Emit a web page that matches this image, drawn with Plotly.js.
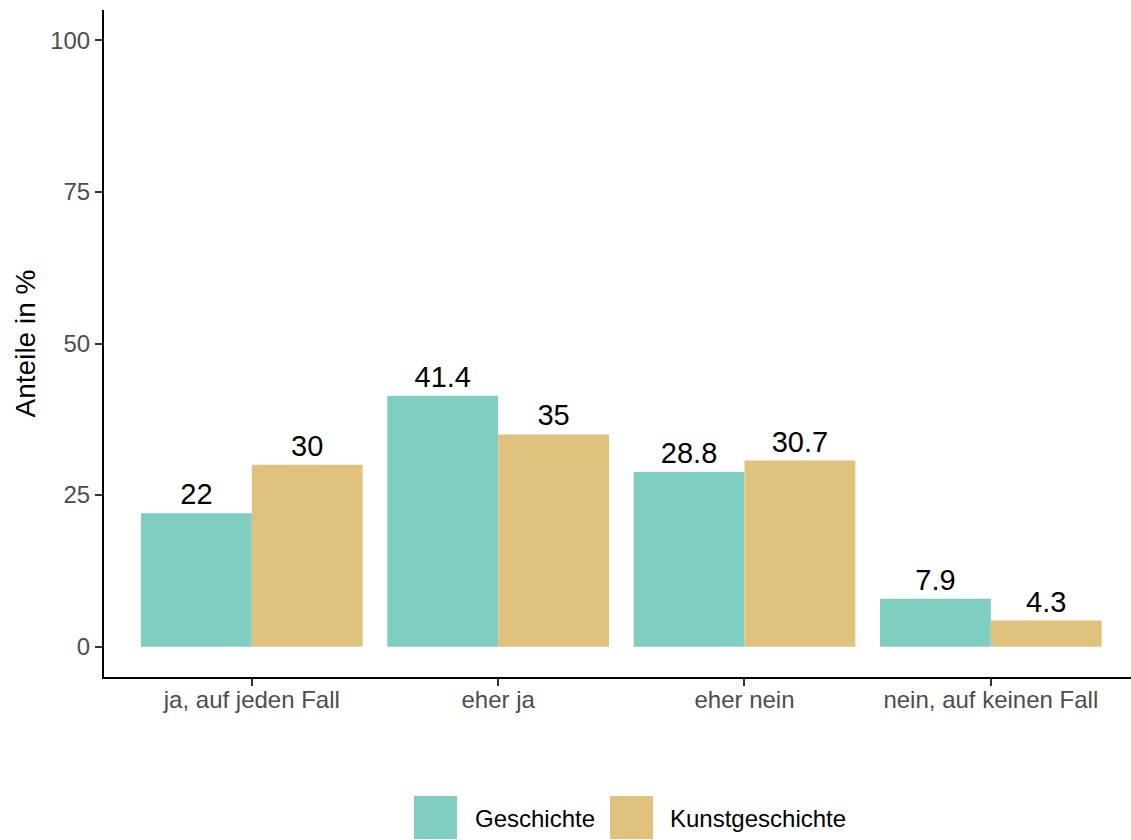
<!DOCTYPE html>
<html>
<head>
<meta charset="utf-8">
<script src="https://cdn.plot.ly/plotly-3.0.1.min.js"></script>
<style>html,body{margin:0;padding:0;overflow:hidden;background:#fff;}</style>
</head>
<body>
<div id="chart" style="width:1131px;height:840px;"></div>
<script>
const categories = ["ja, auf jeden Fall", "eher ja", "eher nein", "nein, auf keinen Fall"];
const seriesNames = ["Geschichte", "Kunstgeschichte"];
const geschichte = [22, 41.4, 28.8, 7.9];
const kunstgeschichte = [30, 35, 30.7, 4.3];
const yTicks = [0, 25, 50, 75, 100];
const colors = ["#80CDC1", "#DFC27D"];

const W = 1131, H = 840;
const M = {l: 104, r: 0, t: 10, b: 163};
const FONT = "Liberation Sans, Arial, sans-serif";

const values = [geschichte, kunstgeschichte];
const traces = values.map((v, i) => ({
  type: "bar",
  name: seriesNames[i],
  x: categories,
  y: v,
  marker: {color: colors[i], line: {width: 0}},
  text: v.map(String),
  textposition: "outside",
  constraintext: "none",
  textfont: {family: FONT, size: 29, color: "#000"},
  cliponaxis: false,
  hoverinfo: "x+y+name"
}));

// manual legend (ggplot-style large keys)
const pw = W - M.l - M.r, ph = H - M.t - M.b;
const px2x = p => (p - M.l) / pw;
const py2y = p => (H - M.b - p) / ph;
const legendKeys = [{x0: 414, x1: 457, tx: 473}, {x0: 610, x1: 653, tx: 668}];
const shapes = [], annotations = [];
seriesNames.forEach((n, i) => {
  const k = legendKeys[i];
  shapes.push({type: "rect", xref: "paper", yref: "paper",
    x0: px2x(k.x0), x1: px2x(k.x1), y0: py2y(839), y1: py2y(796),
    fillcolor: colors[i], line: {width: 0}});
  annotations.push({xref: "paper", yref: "paper", x: px2x(k.tx), y: py2y(818),
    xanchor: "left", yanchor: "middle", text: n, showarrow: false,
    font: {family: FONT, size: 24, color: "#000"}});
});

const layout = {
  width: W, height: H,
  margin: M,
  paper_bgcolor: "#fff", plot_bgcolor: "#fff",
  showlegend: false,
  barmode: "group",
  bargap: 0.1,
  bargroupgap: 0,
  font: {family: FONT},
  xaxis: {
    type: "category",
    range: [-0.6, 3.569],
    showline: true, linecolor: "#000", linewidth: 2,
    ticks: "outside", ticklen: 7, tickwidth: 2, tickcolor: "#333",
    tickfont: {family: FONT, size: 24, color: "#4D4D4D"},
    ticklabelstandoff: -7,
    showgrid: false, zeroline: false, fixedrange: true
  },
  yaxis: {
    range: [-5, 105],
    tickvals: yTicks,
    ticktext: yTicks.map(String),
    showline: true, linecolor: "#000", linewidth: 2,
    ticks: "outside", ticklen: 7, tickwidth: 2, tickcolor: "#333",
    tickfont: {family: FONT, size: 24, color: "#4D4D4D"},
    showgrid: false, zeroline: false, fixedrange: true,
    title: {text: "Anteile in %", font: {family: FONT, size: 28, color: "#000"}, standoff: 6}
  },
  shapes: shapes,
  annotations: annotations
};

Plotly.newPlot("chart", traces, layout, {displayModeBar: false, staticPlot: true});
</script>
</body>
</html>
